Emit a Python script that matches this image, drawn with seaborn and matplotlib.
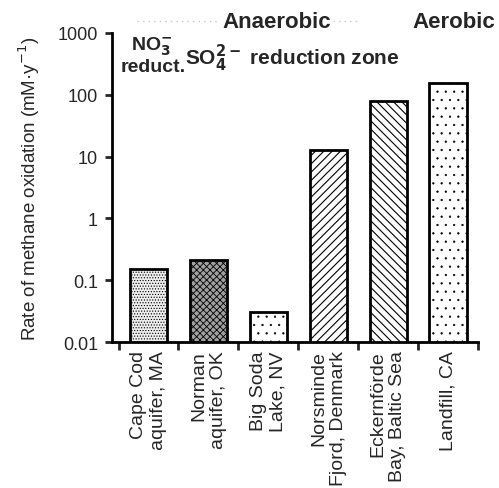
import matplotlib
matplotlib.use("Agg")
import matplotlib.pyplot as plt
import seaborn as sns
import pandas as pd
import numpy as np

sites = ["Cape Cod\naquifer, MA", "Norman\naquifer, OK", "Big Soda\nLake, NV",
         "Norsminde\nFjord, Denmark", "Eckernförde\nBay, Baltic Sea", "Landfill, CA"]
rates = [0.15, 0.21, 0.031, 13, 80, 155]
hatches = ["......", "xxxxx", "..", "////", "\\\\\\\\", ".."]
faces = ["#ededed", "#a0a0a0", "white", "white", "white", "white"]
hatch_lw = [0.5, 0.6, 0.4, 0.8, 0.8, 0.4]
yticks = [0.01, 0.1, 1, 10, 100, 1000]
ytick_labels = ["0.01", "0.1", "1", "10", "100", "1000"]

sns.set_style("white")
plt.rcParams["font.family"] = ["Liberation Sans", "DejaVu Sans"]
plt.rcParams["hatch.linewidth"] = 0.8

W, H = 499, 489
fig = plt.figure(figsize=(W / 100, H / 100), dpi=100)
ax = fig.add_axes([112 / W, 1 - 343 / H, (478 - 112) / W, (343 - 34) / H])

df = pd.DataFrame({"site": sites, "rate": rates})
sns.barplot(data=df, x="site", y="rate", ax=ax, width=0.62, color="white",
            edgecolor="black", linewidth=2)
ax.set_yscale("log")
for p, h, fc, hl in zip(ax.patches, hatches, faces, hatch_lw):
    p.set_hatch(h)
    p.set_facecolor(fc)
    p.set_edgecolor("black")
    p.set_linewidth(2)
    if hasattr(p, "set_hatch_linewidth"):
        p.set_hatch_linewidth(hl)

ax.set_ylim(0.01, 1000)
ax.set_xlim(-0.61, 5.5)
ax.set_yticks(yticks)
ax.set_yticklabels(ytick_labels, fontsize=13)
ax.minorticks_off()
ax.set_ylabel("Rate of methane oxidation (mM·y$^{-1}$)", fontsize=13.5, labelpad=11)
ax.set_xlabel("")

ax.set_xticks(range(len(sites)))
ax.set_xticklabels(sites, rotation=90, fontsize=14, va="top", ha="center",
                   multialignment="right")
ax.tick_params(axis="x", length=0, pad=6)
ax.set_xticks(np.arange(-0.5, 5.6, 1.0), minor=True)
ax.tick_params(axis="x", which="minor", length=6, width=2, direction="out", bottom=True)
ax.tick_params(axis="y", length=5, width=2, direction="out", left=True, pad=5)

sns.despine(ax=ax)
for s in ["left", "bottom"]:
    ax.spines[s].set_linewidth(2)
    ax.spines[s].set_color("black")

def ftext(x, y, s, **kw):
    fig.text(x / W, 1 - y / H, s, ha="center", va="center", fontweight="bold", **kw)

ftext(277, 22, "Anaerobic", fontsize=16)
ftext(454, 22, "Aerobic", fontsize=16)
ftext(152, 47, "NO$_\\mathbf{3}^\\mathbf{-}$", fontsize=14)
ftext(153, 68, "reduct.", fontsize=14)
ftext(292, 58, "SO$_\\mathbf{4}^\\mathbf{2-}$ reduction zone", fontsize=15)

for x0, x1 in [(137, 217), (333, 360)]:
    fig.add_artist(plt.Line2D([x0 / W, x1 / W], [1 - 22 / H, 1 - 22 / H],
                              color="#c8c8c8", lw=1, ls=(0, (1, 3))))

fig.savefig("out.png", dpi=100)
